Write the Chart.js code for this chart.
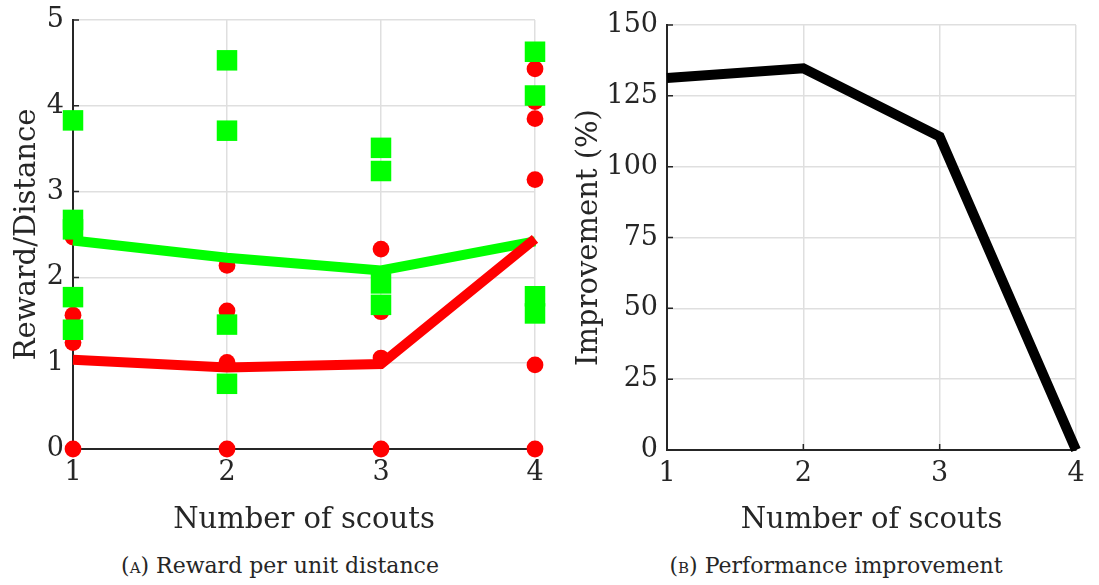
<!DOCTYPE html>
<html>
<head>
<meta charset="utf-8">
<script src="https://cdn.jsdelivr.net/npm/chart.js@4.4.0/dist/chart.umd.min.js"></script>
<style>
  body { margin: 0; background: #fff; width: 1099px; height: 585px; position: relative; overflow: hidden; font-family: "DejaVu Serif", serif; }
  canvas { position: absolute; top: 0; }
  #left { left: 0; }
  #right { left: 560px; }
  .cap { position: absolute; top: 553px; font-size: 22px; color: #262626; white-space: nowrap; transform: translateX(-50%); }
  .sc { font-variant: small-caps; }
</style>
</head>
<body>
<canvas id="left" width="560" height="545"></canvas>
<canvas id="right" width="539" height="545"></canvas>
<div class="cap" style="left:280px">(<span class="sc">a</span>) Reward per unit distance</div>
<div class="cap" style="left:836px">(<span class="sc">b</span>) Performance improvement</div>
<script>
// number of scouts on the x axis
const scouts = [1, 2, 3, 4];

// individual runs, one list per scout count
const squares1 = [3.83, 2.67, 2.56, 1.77, 1.39];
const squares2 = [4.53, 3.71, 1.45, 0.76];
const squares3 = [3.51, 3.24, 1.93, 1.68];
const squares4 = [4.63, 4.12, 1.78, 1.58];

const circles1 = [2.47, 1.56, 1.24, 0];
const circles2 = [2.14, 1.61, 1.01, 0];
const circles3 = [2.33, 1.60, 1.06, 0];
const circles4 = [4.43, 4.05, 3.85, 3.14, 0.98, 0];

// averages
const greenMean = [2.43, 2.23, 2.08, 2.42];
const redMean = [1.04, 0.95, 0.99, 2.45];

// right panel
const improvement = [131.3, 134.7, 110.6, 0];

const INK = '#262626';
const GRID = '#dfdfdf';
Chart.defaults.font.family = "'DejaVu Serif', serif";
Chart.defaults.color = INK;

function toPoints(lists) {
  const pts = [];
  lists.forEach((vals, i) => vals.forEach(v => pts.push({ x: scouts[i], y: v })));
  return pts;
}
const linePoints = vals => vals.map((v, i) => ({ x: scouts[i], y: v }));

// MATLAB style inward tick marks
const innerTicks = {
  id: 'innerTicks',
  beforeDatasetsDraw(chart) {
    const { ctx, chartArea: a, scales: { x, y } } = chart;
    ctx.save();
    ctx.strokeStyle = INK;
    ctx.lineWidth = 1.5;
    ctx.beginPath();
    x.ticks.forEach(t => {
      const px = x.getPixelForValue(t.value);
      ctx.moveTo(px, a.bottom);
      ctx.lineTo(px, a.bottom - 6);
    });
    y.ticks.forEach(t => {
      const py = y.getPixelForValue(t.value);
      ctx.moveTo(a.left, py);
      ctx.lineTo(a.left + 6, py);
    });
    ctx.stroke();
    ctx.restore();
  }
};

function xAxis(h) {
  return {
    type: 'linear', min: 1, max: 4,
    ticks: { stepSize: 1, padding: 8, font: { size: 27 } },
    grid: { color: GRID, lineWidth: 1.5, drawTicks: false },
    border: { color: INK, width: 2 },
    title: { display: true, text: 'Number of scouts', font: { size: 29 }, padding: { top: 0, bottom: 7 } },
    afterFit(s) { s.height = h; s.paddingLeft = 0; s.paddingRight = 0; }
  };
}
function yAxis(min, max, step, text, w, pad) {
  return {
    min, max,
    ticks: { stepSize: step, padding: 9, font: { size: 27 } },
    grid: { color: GRID, lineWidth: 1.5, drawTicks: false },
    border: { color: INK, width: 2 },
    title: { display: true, text, font: { size: 29 }, padding: { top: pad, bottom: 0 } },
    afterFit(s) { s.width = w; s.paddingTop = 0; s.paddingBottom = 0; }
  };
}

new Chart(document.getElementById('left'), {
  type: 'scatter',
  data: {
    datasets: [
      { data: linePoints(redMean), showLine: true, borderColor: '#ff0000', borderWidth: 10, pointRadius: 0, clip: false },
      { data: linePoints(greenMean), showLine: true, borderColor: '#00ff00', borderWidth: 10, pointRadius: 0, clip: false },
      { data: toPoints([squares1, squares2, squares3, squares4]), pointStyle: 'rect', pointRadius: 14.5,
        backgroundColor: '#00ff00', borderWidth: 0, clip: false },
      { data: toPoints([circles1, circles2, circles3, circles4]), pointStyle: 'circle', pointRadius: 8.4,
        backgroundColor: '#ff0000', borderWidth: 0, clip: false }
    ]
  },
  options: {
    responsive: false, animation: false, devicePixelRatio: 1,
    layout: { padding: { top: 20, right: 25, bottom: 0, left: 0 } },
    plugins: { legend: { display: false }, tooltip: { enabled: false } },
    scales: { x: xAxis(96), y: yAxis(0, 5, 1, 'Reward/Distance', 73, 10) }
  },
  plugins: [innerTicks]
});

new Chart(document.getElementById('right'), {
  type: 'scatter',
  data: {
    datasets: [
      { data: linePoints(improvement), showLine: true, borderColor: '#000', borderWidth: 10, pointRadius: 0, clip: false }
    ]
  },
  options: {
    responsive: false, animation: false, devicePixelRatio: 1,
    layout: { padding: { top: 25, right: 23, bottom: 0, left: 0 } },
    plugins: { legend: { display: false }, tooltip: { enabled: false } },
    scales: { x: xAxis(95), y: yAxis(0, 150, 25, 'Improvement (%)', 107, 12) }
  },
  plugins: [innerTicks]
});
</script>
</body>
</html>
